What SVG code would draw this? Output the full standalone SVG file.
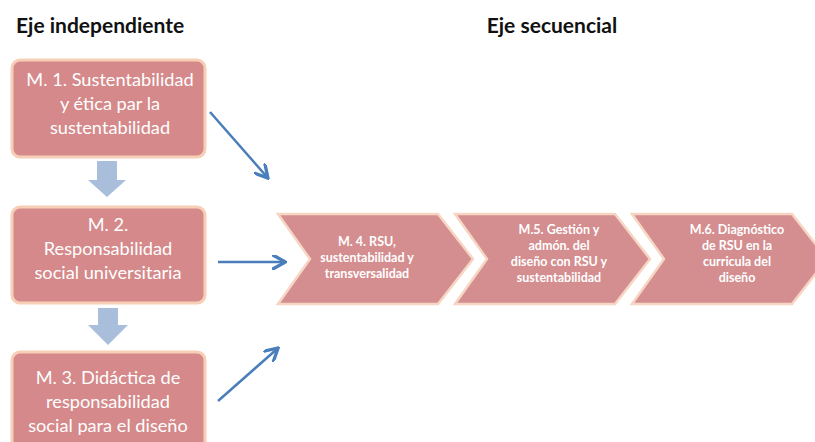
<svg xmlns="http://www.w3.org/2000/svg" width="815" height="442" viewBox="0 0 815 442">
  <style>
    .title { font-family: Lato, "Liberation Sans", sans-serif; font-weight: bold; font-size: 21px; fill: #111; }
    .box { fill: #d5898a; stroke: #f6cfb6; stroke-width: 3; }
    .chev { fill: #d48e8f; stroke: #f6d6c2; stroke-width: 2.5; stroke-linejoin: miter; }
    .btxt { font-family: Lato, "Liberation Sans", sans-serif; font-size: 18.2px; fill: #ffffff; text-anchor: middle; }
    .ctxt { font-family: Lato, "Liberation Sans", sans-serif; font-size: 12.5px; font-weight: bold; fill: #ffffff; text-anchor: middle; }
    .down { fill: #a8bedb; }
    .link { stroke: #4a7ebb; stroke-width: 2.5; fill: none; marker-end: url(#head); }
  </style>
  <defs>
    <marker id="head" viewBox="0 0 10 10" refX="8" refY="5" markerWidth="6" markerHeight="6" orient="auto" markerUnits="strokeWidth">
      <path d="M0,0 L9,5 L0,10" fill="none" stroke="#4a7ebb" stroke-width="2.2"/>
    </marker>
  </defs>
  <rect width="815" height="442" fill="#ffffff"/>

  <text class="title" x="16" y="33">Eje independiente</text>
  <text class="title" x="552" y="33" text-anchor="middle">Eje secuencial</text>

  <!-- independent modules -->
  <g id="m1">
    <rect class="box" x="12" y="60" width="193" height="97" rx="8"/>
    <text class="btxt" x="110" y="86">M. 1. Sustentabilidad</text>
    <text class="btxt" x="110" y="110">y ética par la</text>
    <text class="btxt" x="110" y="134">sustentabilidad</text>
  </g>
  <g id="m2">
    <rect class="box" x="12" y="207" width="193" height="96" rx="8"/>
    <text class="btxt" x="108" y="231">M. 2.</text>
    <text class="btxt" x="108" y="255">Responsabilidad</text>
    <text class="btxt" x="108" y="279">social universitaria</text>
  </g>
  <g id="m3">
    <rect class="box" x="12" y="352" width="193" height="100" rx="8"/>
    <text class="btxt" x="108" y="384">M. 3. Didáctica de</text>
    <text class="btxt" x="108" y="408">responsabilidad</text>
    <text class="btxt" x="108" y="432">social para el diseño</text>
  </g>

  <!-- sequential modules -->
  <g id="m4">
    <polygon class="chev" points="278,214 438,214 473,259 438,304 278,304 310,259"/>
    <text class="ctxt" x="367" y="246">M. 4. RSU,</text>
    <text class="ctxt" x="367" y="262">sustentabilidad y</text>
    <text class="ctxt" x="367" y="278">transversalidad</text>
  </g>
  <g id="m5">
    <polygon class="chev" points="455,214 615,214 650,259 615,304 455,304 487,259"/>
    <text class="ctxt" x="559" y="234">M.5. Gestión y</text>
    <text class="ctxt" x="559" y="250">admón. del</text>
    <text class="ctxt" x="559" y="266">diseño con RSU y</text>
    <text class="ctxt" x="559" y="282">sustentabilidad</text>
  </g>
  <g id="m6">
    <polygon class="chev" points="632,214 792,214 827,259 792,304 632,304 664,259"/>
    <text class="ctxt" x="737" y="234">M.6. Diagnóstico</text>
    <text class="ctxt" x="737" y="250">de RSU en la</text>
    <text class="ctxt" x="737" y="266">curricula del</text>
    <text class="ctxt" x="737" y="282">diseño</text>
  </g>

  <!-- connectors -->
  <g id="connectors">
    <polygon class="down" points="97,161 117,161 117,180 126,180 107,197 88,180 97,180"/>
    <polygon class="down" points="98,308 118,308 118,325 128,325 108,345 88,325 98,325"/>
    <line class="link" x1="210" y1="112" x2="267" y2="177"/>
    <line class="link" x1="218" y1="262" x2="284" y2="262"/>
    <line class="link" x1="218" y1="401" x2="277" y2="349"/>
  </g>
</svg>
